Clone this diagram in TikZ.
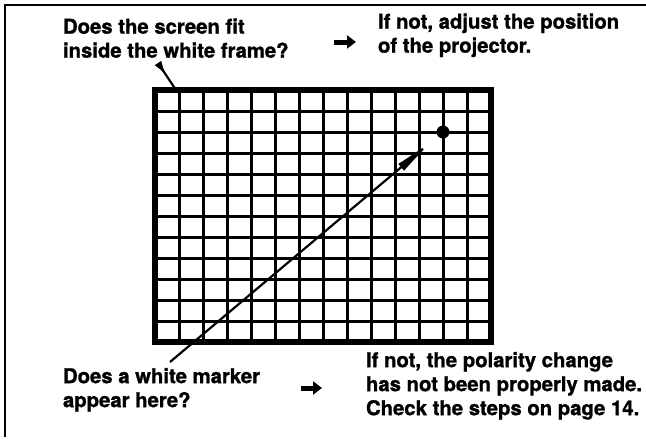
\documentclass[tikz,border=0pt]{standalone}
\usepackage{fontspec}
\setmainfont{TeX Gyre Heros}[BoldFeatures={FakeBold=1.2}]
\usetikzlibrary{arrows.meta}
\begin{document}
\begin{tikzpicture}[x=1pt,y=-1pt,
  txt/.style={anchor=north west, inner sep=0pt, outer sep=0pt, align=left,
    font=\fontsize{20.3pt}{24pt}\selectfont\bfseries},
  fatarrow/.style={line width=5pt, -{Triangle[length=9pt,width=13pt]}},
  pointer/.style={line width=2.2pt},
  gridline/.style={line width=3pt}]
\useasboundingbox (0,0) rectangle (646,440);
% partial border
\draw[line width=2pt] (5,437) -- (5,5) -- (646,5);
% grid
\foreach \i in {1,...,13} {
  \draw[gridline] ({155+24*\i},90) -- ({155+24*\i},342);
}
\foreach \j in {1,...,11} {
  \draw[gridline] (155,{90+21*\j}) -- (491,{90+21*\j});
}
\node[draw, line width=5.5pt, minimum width=336pt, minimum height=252pt,
  inner sep=0pt, outer sep=0pt] (frame) at (323,216) {};
\node[circle, fill, minimum size=13pt, inner sep=0pt] (marker) at (443,132) {};
% texts
\node[txt] (q1) at (63,18.5) {Does the screen fit\\inside the white frame?};
\node[txt] (i1) at (378,13.5) {If not, adjust the position\\of the projector.};
\node[txt] (q2) at (63,368) {Does a white marker\\appear here?};
\node[txt] (i2) at (366,352) {If not, the polarity change\\has not been properly made.\\Check the steps on page 14.};
% small arrows
\coordinate (a1s) at (334,42);
\coordinate (a1e) at (356,42);
\coordinate (a2s) at (301,388);
\coordinate (a2e) at (322,388);
\draw[fatarrow] (a1s) -- (a1e);
\draw[fatarrow] (a2s) -- (a2e);
% pointers
\coordinate (p1s) at (158,63);
\draw[pointer, {Latex[reversed,length=15pt,width=8pt]}-] (p1s) -- ([xshift=21pt]frame.north west);
\coordinate (p2s) at (170,362);
\draw[pointer, -{Latex[length=45pt,width=9pt]}, shorten >=3pt] (p2s) -- (marker);
\end{tikzpicture}
\end{document}
